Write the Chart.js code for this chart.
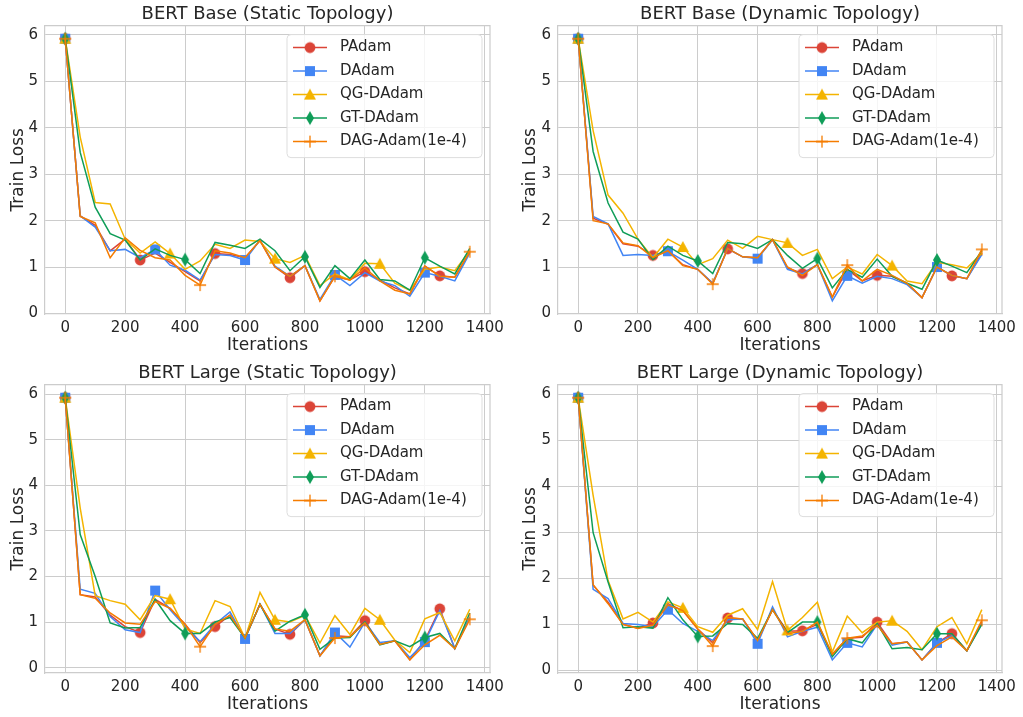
<!DOCTYPE html>
<html>
<head>
<meta charset="utf-8">
<script src="https://cdn.jsdelivr.net/npm/chart.js@4.4.1/dist/chart.umd.min.js"></script>
<style>
body { margin: 0; background: #fff; }
#fig { position: relative; width: 1023px; height: 717px; background: #fff; }
#fig canvas { position: absolute; }
</style>
</head>
<body>
<div id="fig">
<canvas id="c0" width="511" height="358" style="left:0;top:0"></canvas>
<canvas id="c1" width="511" height="358" style="left:512px;top:0"></canvas>
<canvas id="c2" width="511" height="358" style="left:0;top:359px"></canvas>
<canvas id="c3" width="511" height="358" style="left:512px;top:359px"></canvas>
</div>
<script>
// iterations (x) shared by every curve
var iterations = [0,50,100,150,200,250,300,350,400,450,500,550,600,650,700,750,800,850,900,950,1000,1050,1100,1150,1200,1250,1300,1350];

var labels = ["PAdam", "DAdam", "QG-DAdam", "GT-DAdam", "DAG-Adam(1e-4)"];
var titles = ["BERT Base (Static Topology)", "BERT Base (Dynamic Topology)", "BERT Large (Static Topology)", "BERT Large (Dynamic Topology)"];
var xTicks = [0,200,400,600,800,1000,1200,1400];
var yTicks = [0,1,2,3,4,5,6];

// BERT Base, static topology
var baseStaticPAdam = [5.92,2.1,1.9,1.35,1.6,1.15,1.3,1.1,0.9,0.7,1.29,1.27,1.2,1.57,1.0,0.77,1.03,0.27,0.8,0.72,0.9,0.72,0.55,0.42,1.02,0.81,0.78,1.33];
var baseStaticDAdam = [5.92,2.1,1.86,1.35,1.38,1.2,1.38,1.04,0.93,0.72,1.27,1.25,1.15,1.58,1.02,0.8,1.03,0.3,0.83,0.6,0.88,0.7,0.6,0.37,0.88,0.8,0.7,1.3];
var baseStaticQG = [5.92,3.8,2.39,2.36,1.6,1.3,1.54,1.29,0.95,1.13,1.49,1.4,1.58,1.55,1.18,1.1,1.25,0.6,0.85,0.72,1.08,1.07,0.65,0.5,0.95,1.0,0.92,1.35];
var baseStaticGT = [5.92,3.47,2.29,1.72,1.58,1.15,1.39,1.25,1.16,0.86,1.53,1.47,1.4,1.6,1.35,0.92,1.22,0.56,1.03,0.75,1.15,0.73,0.7,0.5,1.2,1.02,0.85,1.4];
var baseStaticDAG = [5.92,2.09,1.95,1.2,1.63,1.36,1.2,1.15,0.82,0.61,1.35,1.3,1.2,1.57,1.0,0.8,1.03,0.27,0.8,0.72,0.98,0.7,0.5,0.42,1.02,0.8,0.78,1.33];

// BERT Base, dynamic topology
var baseDynamicPAdam = [5.92,2.05,1.92,1.5,1.45,1.25,1.35,1.05,0.95,0.65,1.39,1.22,1.2,1.59,0.98,0.86,1.05,0.35,0.95,0.7,0.82,0.8,0.65,0.34,1.0,0.81,0.75,1.3];
var baseDynamicDAdam = [5.92,2.09,1.93,1.25,1.27,1.25,1.34,1.15,0.95,0.65,1.4,1.22,1.18,1.59,0.95,0.85,1.05,0.27,0.81,0.65,0.8,0.75,0.62,0.34,1.0,0.82,0.75,1.27];
var baseDynamicQG = [5.92,3.94,2.55,2.16,1.6,1.2,1.6,1.43,1.05,1.18,1.58,1.4,1.66,1.59,1.52,1.25,1.38,0.75,1.0,0.85,1.27,1.03,0.7,0.64,1.1,1.05,0.98,1.3];
var baseDynamicGT = [5.92,3.49,2.38,1.75,1.6,1.16,1.45,1.25,1.13,0.86,1.53,1.5,1.4,1.59,1.25,0.97,1.18,0.55,0.95,0.78,1.17,0.8,0.65,0.52,1.15,1.02,0.88,1.35];
var baseDynamicDAG = [5.92,2.0,1.93,1.52,1.46,1.2,1.35,1.03,0.95,0.63,1.4,1.22,1.2,1.59,1.0,0.82,1.05,0.35,1.04,0.7,0.95,0.82,0.65,0.34,1.0,0.82,0.75,1.38];

// BERT Large, static topology
var largeStaticPAdam = [5.92,1.6,1.55,1.15,0.9,0.77,1.5,1.3,0.95,0.55,0.9,1.15,0.65,1.39,0.85,0.73,1.05,0.26,0.7,0.68,1.03,0.51,0.59,0.17,0.6,1.29,0.42,1.1];
var largeStaticDAdam = [5.92,1.72,1.63,1.12,0.83,0.77,1.69,1.27,0.9,0.57,0.95,1.22,0.63,1.39,0.75,0.75,1.05,0.26,0.77,0.45,1.0,0.55,0.59,0.22,0.56,1.25,0.42,1.1];
var largeStaticQG = [5.92,3.5,1.58,1.47,1.39,1.05,1.58,1.5,0.85,0.75,1.47,1.34,0.65,1.65,1.05,1.0,1.15,0.54,1.14,0.73,1.3,1.05,0.6,0.33,1.07,1.21,0.59,1.28];
var largeStaticGT = [5.92,2.92,2.0,0.98,0.87,0.88,1.5,1.03,0.75,0.75,1.0,1.1,0.65,1.39,0.8,1.02,1.16,0.4,0.65,0.66,1.0,0.5,0.59,0.46,0.66,0.75,0.42,1.2];
var largeStaticDAG = [5.92,1.6,1.52,1.2,0.98,0.95,1.45,1.3,0.95,0.46,0.95,1.15,0.65,1.39,0.85,0.8,1.05,0.26,0.65,0.68,0.98,0.51,0.59,0.17,0.5,0.71,0.42,1.06];

// BERT Large, dynamic topology
var largeDynamicPAdam = [5.92,1.85,1.48,1.0,0.92,1.03,1.45,1.3,0.9,0.6,1.14,1.12,0.65,1.32,0.85,0.86,1.0,0.35,0.7,0.72,1.05,0.58,0.62,0.23,0.6,0.8,0.43,1.05];
var largeDynamicDAdam = [5.92,1.76,1.56,1.02,1.0,0.95,1.32,1.02,0.85,0.65,1.1,1.12,0.58,1.38,0.73,0.85,0.94,0.23,0.6,0.51,1.0,0.55,0.62,0.23,0.6,0.75,0.43,1.02];
var largeDynamicQG = [5.92,3.8,1.95,1.12,1.26,1.05,1.49,1.36,0.95,0.83,1.2,1.34,0.89,1.93,0.87,1.15,1.48,0.4,1.18,0.82,1.05,1.08,0.85,0.45,0.95,1.15,0.58,1.32];
var largeDynamicGT = [5.92,2.99,1.92,0.93,0.95,0.92,1.58,1.1,0.74,0.75,1.02,1.0,0.7,1.32,0.82,1.05,1.05,0.3,0.69,0.6,1.02,0.47,0.5,0.45,0.8,0.8,0.43,1.0];
var largeDynamicDAG = [5.92,1.86,1.45,1.0,0.91,0.98,1.42,1.3,0.9,0.53,1.15,1.12,0.65,1.32,0.8,0.85,1.05,0.35,0.7,0.75,0.98,0.58,0.62,0.23,0.54,0.73,0.43,1.09];

var panels = [
  [baseStaticPAdam, baseStaticDAdam, baseStaticQG, baseStaticGT, baseStaticDAG],
  [baseDynamicPAdam, baseDynamicDAdam, baseDynamicQG, baseDynamicGT, baseDynamicDAG],
  [largeStaticPAdam, largeStaticDAdam, largeStaticQG, largeStaticGT, largeStaticDAG],
  [largeDynamicPAdam, largeDynamicDAdam, largeDynamicQG, largeDynamicGT, largeDynamicDAG]
];

var colors = ["#DB4437", "#4285F4", "#F4B400", "#0F9D58", "#F57C00"];
var markers = ["o", "s", "^", "d", "+"];
var markEvery = [5, 6, 7, 8, 9];
var textColor = "#262626";
var gridColor = "#cccccc";
var font = "'DejaVu Sans', sans-serif";

function makeMarker(kind, color) {
  var c = document.createElement("canvas");
  c.width = 16; c.height = 16;
  var g = c.getContext("2d");
  var m = 8;
  g.fillStyle = color; g.strokeStyle = color;
  if (kind == "o") { g.beginPath(); g.arc(m, m, 5.4, 0, 2 * Math.PI); g.fill(); }
  else if (kind == "s") { g.fillRect(m - 5, m - 5, 10, 10); }
  else if (kind == "^") { g.beginPath(); g.moveTo(m, m - 6); g.lineTo(m + 6, m + 5); g.lineTo(m - 6, m + 5); g.closePath(); g.fill(); }
  else if (kind == "d") { g.beginPath(); g.moveTo(m, m - 7); g.lineTo(m + 4, m); g.lineTo(m, m + 7); g.lineTo(m - 4, m); g.closePath(); g.fill(); }
  else if (kind == "+") { g.lineWidth = 1.3; g.beginPath(); g.moveTo(m - 6, m); g.lineTo(m + 6, m); g.moveTo(m, m - 6); g.lineTo(m, m + 6); g.stroke(); }
  return c;
}
var markerImgs = markers.map(function (k, i) { return makeMarker(k, colors[i]); });

// top and right spines
var framePlugin = {
  id: "frame",
  beforeDatasetsDraw: function (chart) {
    var a = chart.chartArea, ctx = chart.ctx;
    ctx.save();
    ctx.strokeStyle = gridColor; ctx.lineWidth = 1.2;
    ctx.beginPath();
    ctx.moveTo(a.left, a.top); ctx.lineTo(a.right, a.top); ctx.lineTo(a.right, a.bottom);
    ctx.stroke();
    ctx.restore();
  }
};

// legend box in the upper right corner, line + marker per entry
var legendPlugin = {
  id: "boxLegend",
  afterDraw: function (chart) {
    var a = chart.chartArea, ctx = chart.ctx;
    var w = 195, h = 123;
    var x0 = a.right - 8 - w, y0 = a.top + 9;
    ctx.save();
    ctx.beginPath();
    ctx.roundRect(x0, y0, w, h, 4);
    ctx.fillStyle = "rgba(255,255,255,0.8)";
    ctx.fill();
    ctx.strokeStyle = "#dddddd"; ctx.lineWidth = 1;
    ctx.stroke();
    ctx.font = "15px " + font;
    ctx.textBaseline = "middle";
    for (var i = 0; i < labels.length; i++) {
      var y = y0 + 13 + i * 23.5;
      ctx.strokeStyle = colors[i]; ctx.lineWidth = 1.5;
      ctx.beginPath(); ctx.moveTo(x0 + 6, y); ctx.lineTo(x0 + 40, y); ctx.stroke();
      ctx.drawImage(markerImgs[i], x0 + 23 - 8, y - 8);
      ctx.fillStyle = textColor;
      ctx.fillText(labels[i], x0 + 53, y);
    }
    ctx.restore();
  }
};

function drawPanel(id, p, yWidth) {
  var series = panels[p];
  var all = [].concat.apply([], series);
  var lo = Math.min.apply(null, all), hi = Math.max.apply(null, all);
  var pad = 0.05 * (hi - lo);
  var datasets = series.map(function (vals, i) {
    return {
      label: labels[i],
      data: iterations.map(function (x, j) { return {x: x, y: vals[j]}; }),
      borderColor: colors[i],
      backgroundColor: colors[i],
      borderWidth: 1.5,
      tension: 0,
      pointStyle: markerImgs[i],
      pointRadius: function (ctx) { return ctx.dataIndex % markEvery[i] === 0 ? 6 : 0; },
      pointHoverRadius: 0,
      order: 5 - i
    };
  });
  new Chart(document.getElementById(id), {
    type: "line",
    data: {datasets: datasets},
    options: {
      responsive: false,
      animation: false,
      devicePixelRatio: 1,
      layout: {padding: {left: 0, right: 21, top: 0, bottom: 0}},
      plugins: {
        legend: {display: false},
        tooltip: {enabled: false},
        title: {
          display: true,
          text: titles[p],
          fullSize: false,
          color: textColor,
          font: {family: font, size: 18, weight: "normal"},
          padding: {top: 4, bottom: 0}
        }
      },
      scales: {
        x: {
          type: "linear",
          min: -67.5, max: 1417.5,
          afterBuildTicks: function (s) { s.ticks = xTicks.map(function (v) { return {value: v}; }); },
          afterFit: function (s) { s.height = 44; },
          ticks: {color: textColor, font: {family: font, size: 15}, padding: 5, callback: function (v) { return String(v); }},
          grid: {color: gridColor, lineWidth: 1, drawTicks: false},
          border: {color: gridColor, width: 1.2},
          title: {display: true, text: "Iterations", color: textColor, font: {family: font, size: 17}, padding: {top: 0, bottom: 2}}
        },
        y: {
          min: lo - pad, max: hi + pad,
          afterBuildTicks: function (s) { s.ticks = yTicks.map(function (v) { return {value: v}; }); },
          afterFit: function (s) { s.width = yWidth; },
          ticks: {color: textColor, font: {family: font, size: 15}, padding: 7, callback: function (v) { return String(v); }},
          grid: {color: gridColor, lineWidth: 1, drawTicks: false},
          border: {color: gridColor, width: 1.2},
          title: {display: true, text: "Train Loss", color: textColor, font: {family: font, size: 17}, padding: {top: 8, bottom: 0}}
        }
      }
    },
    plugins: [framePlugin, legendPlugin]
  });
}

drawPanel("c0", 0, 45);
drawPanel("c1", 1, 46);
drawPanel("c2", 2, 45);
drawPanel("c3", 3, 46);
</script>
</body>
</html>
